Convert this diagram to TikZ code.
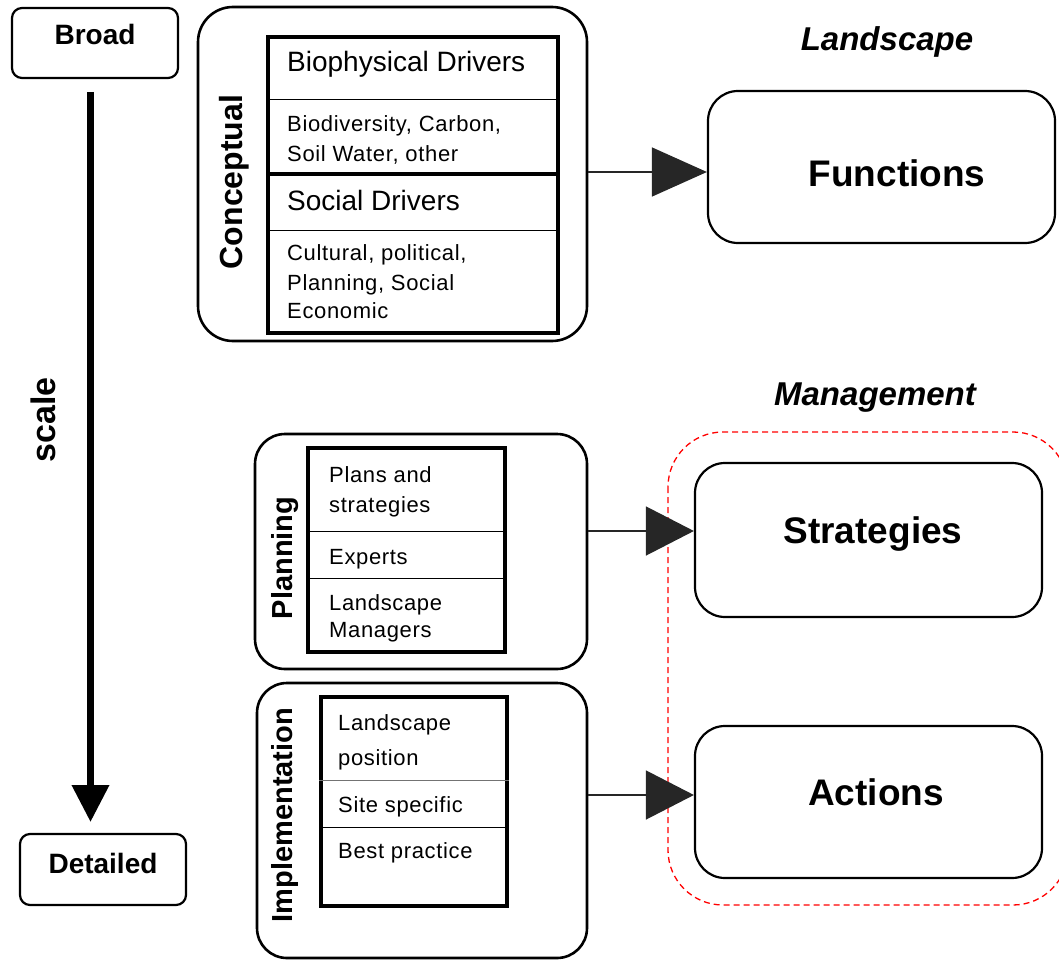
\documentclass[tikz,border=0pt]{standalone}
\usepackage{fontspec}
\setmainfont{Liberation Sans}
\newfontfamily\smallf[LetterSpace=3]{Liberation Sans}
\usetikzlibrary{arrows.meta}
\tikzset{
  rbox/.style={draw, line width=2.2pt, rounded corners=#1, inner sep=0pt},
  rbox/.default=30pt,
  outerbox/.style={draw, line width=2.6pt, rounded corners=#1, inner sep=0pt},
  innerbox/.style={draw, line width=4pt, inner sep=0pt},
  divider/.style={line width=1pt},
  txt/.style={inner sep=0pt, anchor=base west, font=\smallf\fontsize{22}{26}\selectfont},
  bigtxt/.style={inner sep=0pt, anchor=base west, font=\fontsize{28}{32}\selectfont},
  rot/.style={rotate=90, anchor=base, inner sep=0pt, font=\bfseries\fontsize{#1}{#1}\selectfont},
  lbl/.style={inner sep=0pt, anchor=base, font=\bfseries\fontsize{#1}{#1}\selectfont},
  ttl/.style={inner sep=0pt, anchor=base, font=\bfseries\itshape\fontsize{33}{36}\selectfont},
  conn/.style={line width=1.5pt, black!85, -{Triangle[length=#1pt,width=49pt]}},
  conn/.default=48
}
\begin{document}
\begin{tikzpicture}[x=1pt,y=-1pt]
\useasboundingbox (0,0) rectangle (1059,960);

% scale column
\node[rbox=10pt, minimum width=166pt, minimum height=70pt] (broad) at (95,43) {};
\node[lbl=28] (broadt) at (95,45) {Broad};
\node[rbox=10pt, minimum width=166pt, minimum height=71pt] (detailed) at (103,869.5) {};
\node[lbl=28] (detailedt) at (103,873) {Detailed};
\coordinate (sa) at (90.5,92);
\coordinate (sb) at (90.5,822);
\draw[line width=7pt, -{Triangle[length=37pt,width=36pt]}] (sa) -- (sb);
\node[rot=34] (scalet) at (55,420) {scale};

% Conceptual
\node[outerbox=35pt, minimum width=389pt, minimum height=334pt] (co) at (392.5,174) {};
\node[innerbox, minimum width=290pt, minimum height=296pt] (ci) at (413,185) {};
\draw[divider] (ci.west |- 0,100) -- (ci.east |- 0,100);
\draw[line width=4pt] (ci.west |- 0,174) -- (ci.east |- 0,174);
\draw[divider] (ci.west |- 0,230) -- (ci.east |- 0,230);
\node[rot=32] (col) at (242,182) {Conceptual};
\node[bigtxt] (c1) at (287,72) {Biophysical Drivers};
\node[txt] (c2) at (287,132) {Biodiversity, Carbon,};
\node[txt] (c3) at (287,162) {Soil Water, other};
\node[bigtxt] (c4) at (287,210) {Social Drivers};
\node[txt] (c5) at (287,260) {Cultural, political,};
\node[txt] (c6) at (287,290) {Planning, Social};
\node[txt] (c7) at (287,318) {Economic};

% Planning
\node[outerbox=30pt, minimum width=332pt, minimum height=235pt] (po) at (421,551.5) {};
\node[innerbox, minimum width=197pt, minimum height=204pt] (pi) at (406.5,550) {};
\draw[divider] (pi.west |- 0,531) -- (pi.east |- 0,531);
\draw[divider] (pi.west |- 0,578) -- (pi.east |- 0,578);
\node[rot=29] (pol) at (292,558) {Planning};
\node[txt] (p1) at (329,482) {Plans and};
\node[txt] (p2) at (329,512) {strategies};
\node[txt] (p3) at (329,564) {Experts};
\node[txt] (p4) at (329,610) {Landscape};
\node[txt] (p5) at (329,637) {Managers};

% Implementation
\node[outerbox=30pt, minimum width=330pt, minimum height=275pt] (io) at (422,820.5) {};
\node[innerbox, minimum width=186pt, minimum height=209pt] (ii) at (414,801.5) {};
\draw[divider, black!55] (ii.west |- 0,780) -- (ii.east |- 0,780);
\draw[divider] (ii.west |- 0,827) -- (ii.east |- 0,827);
\node[rot=29] (iol) at (292,815) {Implementation};
\node[txt] (i1) at (338,730) {Landscape};
\node[txt] (i2) at (338,765) {position};
\node[txt] (i3) at (338,812) {Site specific};
\node[txt] (i4) at (338,858) {Best practice};

% Right side
\node[ttl] (landt) at (887,51) {Landscape};
\node[rbox=30pt, minimum width=347pt, minimum height=152pt] (fn) at (881.5,167) {};
\node[lbl=37] (fnt) at (897,186) {Functions};

\node[ttl] (mant) at (875,405) {Management};
\draw[red, line width=1.3pt, dash pattern=on 6pt off 4pt, rounded corners=55pt] (668,432) rectangle (1068,905);
\node[rbox=30pt, minimum width=347pt, minimum height=154pt] (st) at (868.5,540) {};
\node[lbl=37] (stt) at (873,543) {Strategies};
\node[rbox=30pt, minimum width=347pt, minimum height=152pt] (ac) at (868.5,802) {};
\node[lbl=37] (act) at (876,805) {Actions};

% connectors
\draw[conn=55] (co.east |- 0,172) -- (fn.west |- 0,172);
\draw[conn] (po.east |- 0,531) -- (st.west |- 0,531);
\draw[conn] (io.east |- 0,795) -- (ac.west |- 0,795);
\end{tikzpicture}
\end{document}
